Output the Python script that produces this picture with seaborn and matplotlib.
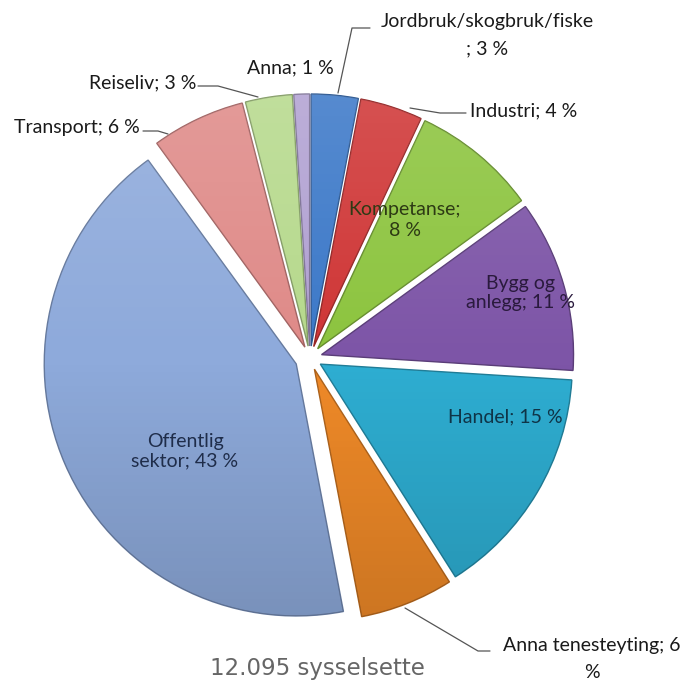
import matplotlib
matplotlib.use("Agg")
import matplotlib.pyplot as plt
import matplotlib.colors as mcolors
import numpy as np
import seaborn as sns

categories = ["Jordbruk/skogbruk/fiske", "Industri", "Kompetanse", "Bygg og anlegg",
              "Handel", "Anna tenesteyting", "Offentlig sektor", "Transport",
              "Reiseliv", "Anna"]
shares = [3, 4, 8, 11, 15, 6, 43, 6, 3, 1]
label_texts = ["Jordbruk/skogbruk/fiske\n; 3 %", "Industri; 4 %", "Kompetanse;\n8 %",
               "Bygg og\nanlegg; 11 %", "Handel; 15 %", "Anna tenesteyting; 6\n%",
               "Offentlig\nsektor; 43 %", "Transport; 6 %", "Reiseliv; 3 %", "Anna; 1 %"]
slice_colors = ["#3b78c8", "#cf3535", "#8cc43e", "#7d55a7", "#2eaed2",
                "#f08a28", "#8eaadb", "#df8a88", "#b6d98c", "#b1a1d2"]
total_text = "12.095 sysselsette"

sns.set_theme(style="white")
plt.rcParams["font.family"] = ["Lato", "DejaVu Sans"]

W, H = 690, 686
fig = plt.figure(figsize=(W / 100, H / 100), dpi=100)
ax = fig.add_axes([0, 0, 1, 1])

def py(y):
    return H - y

def darker(c, f=0.72):
    r, g, b = mcolors.to_rgb(c)
    return (r * f, g * f, b * f)

R = 252
cx, cy = 310, py(358)
explode = [12, 12, 12, 12, 12, 12, 15, 12, 12, 12]
wedges, _ = ax.pie(shares, colors=slice_colors, startangle=90, counterclock=False,
                   radius=R, center=(cx, cy), explode=explode,
                   wedgeprops=dict(linewidth=1.0))
for w, c in zip(wedges, slice_colors):
    w.set_edgecolor(darker(c))

# soft shading over slices (lighter top, darker bottom)
grad = np.zeros((256, 2, 4))
t = np.linspace(0, 1, 256)[:, None]
grad[..., :3] = np.where(t[..., None] < 0.5, 1.0, 0.0)
grad[..., 3] = np.where(t < 0.5, (0.5 - t) * 0.3, (t - 0.5) * 0.32)
for w in wedges:
    im = ax.imshow(grad, extent=(cx - R - 30, cx + R + 30, cy - R - 30, cy + R + 30),
                   origin="upper", aspect="auto", zorder=w.get_zorder() + 0.1,
                   interpolation="bilinear")
    im.set_clip_path(w)

ax.set_xlim(0, W)
ax.set_ylim(0, H)
ax.set_aspect("equal")
ax.axis("off")

fs = 14
txt = "#1a1a1a"
lc = "#555555"

# Outside labels with leaders
ax.text(487, py(22), label_texts[0].split("\n")[0], ha="center", va="center", fontsize=fs, color=txt)
ax.text(487, py(49), label_texts[0].split("\n")[1], ha="center", va="center", fontsize=fs, color=txt)
ax.plot([338, 352, 370], [py(93), py(28), py(28)], color=lc, lw=0.9)

ax.text(470, py(111), label_texts[1], ha="left", va="center", fontsize=fs, color=txt)
ax.plot([410, 440, 466], [py(108), py(113), py(113)], color=lc, lw=0.9)

ax.text(592, py(646), label_texts[5].split("\n")[0], ha="center", va="center", fontsize=fs, color=txt)
ax.text(592, py(673), label_texts[5].split("\n")[1], ha="center", va="center", fontsize=fs, color=txt)
ax.plot([405, 478, 490], [py(608), py(651), py(651)], color=lc, lw=0.9)

ax.text(140, py(128), label_texts[7], ha="right", va="center", fontsize=fs, color=txt)
ax.plot([143, 158, 168], [py(131), py(131), py(134)], color=lc, lw=0.9)

ax.text(196, py(83), label_texts[8], ha="right", va="center", fontsize=fs, color=txt)
ax.plot([198, 218, 258], [py(86), py(86), py(97)], color=lc, lw=0.9)

ax.text(290, py(68), label_texts[9], ha="center", va="center", fontsize=fs, color=txt)

# Inside labels
ax.text(405, py(220), label_texts[2], ha="center", va="center", fontsize=fs, color="#2d3a14", linespacing=1.3)
ax.text(520, py(293), label_texts[3], ha="center", va="center", fontsize=fs, color="#2a1a3d", linespacing=1.1)
ax.text(505, py(417), label_texts[4], ha="center", va="center", fontsize=fs, color="#0f3447")
ax.text(185, py(451), label_texts[6], ha="center", va="center", fontsize=fs, color="#1f2d4a", linespacing=1.2)

ax.text(317, py(668), total_text, ha="center", va="center", fontsize=16.5,
        color="#666666", family=["DejaVu Sans"])

fig.savefig("out.png", dpi=100, facecolor="white")
